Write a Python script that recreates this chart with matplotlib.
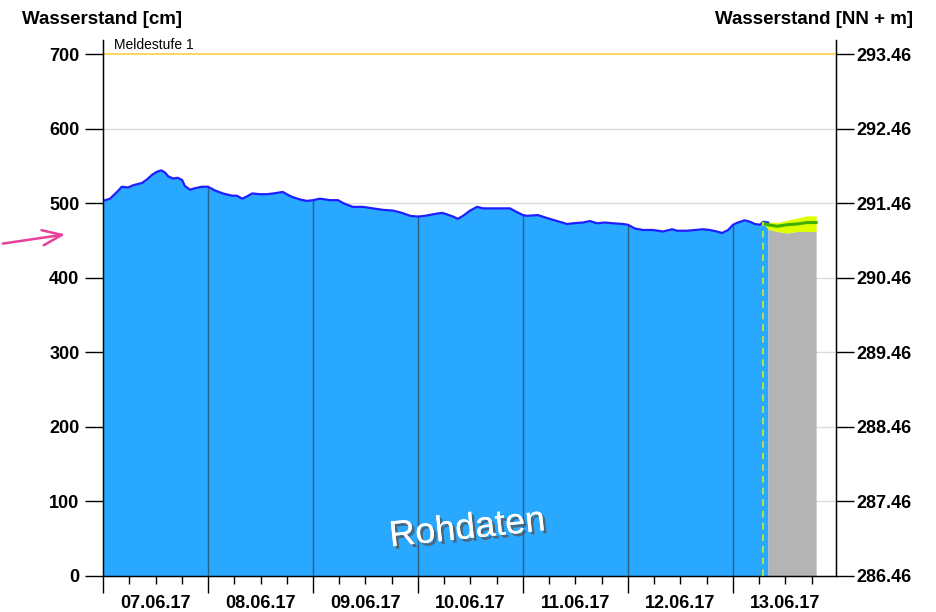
import numpy as np
import matplotlib
matplotlib.use("Agg")
import matplotlib.pyplot as plt
import matplotlib.patheffects as pe

# ---- data (hours since 07.06.17 00:00, water level in cm) ----
hours = [0.0, 1.6, 3.2, 4.3, 5.7, 6.9, 8.9, 10.1, 11.2, 12.3, 13.3, 14.2, 14.9, 16.0,
         17.1, 18.1, 18.7, 19.9, 21.0, 22.6, 24.0, 25.6, 27.4, 29.5, 30.6, 31.8, 32.9,
         34.1, 35.9, 37.5, 38.9, 41.1, 42.3, 43.4, 45.0, 46.6, 48.0, 49.6, 51.9, 53.7,
         54.9, 57.1, 59.4, 61.7, 64.0, 66.3, 68.3, 70.2, 72.0, 73.6, 75.4, 77.5, 78.6,
         80.0, 81.1, 82.3, 83.9, 85.5, 86.9, 89.1, 91.4, 93.0, 94.6, 96.0, 96.9, 99.4,
         101.5, 103.8, 106.1, 107.4, 109.7, 111.3, 112.9, 114.7, 116.6, 118.9, 120.0,
         121.6, 123.4, 125.7, 128.0, 130.1, 131.2, 133.5, 135.3, 137.1, 138.7, 140.3,
         141.5, 142.9, 144.0, 145.1, 146.7, 147.9, 149.0, 150.2, 150.9, 152.0]
level = [503, 506, 515, 522, 521, 524, 527, 532, 538, 542, 544, 541, 536, 533,
         534, 531, 523, 518, 520, 522, 522, 517, 513, 510, 510, 506, 509,
         513, 512, 512, 513, 515, 511, 508, 505, 503, 504, 506, 504, 504,
         500, 495, 495, 493, 491, 490, 487, 483, 482, 483, 485, 487, 485,
         482, 479, 483, 490, 495, 493, 493, 493, 493, 488, 484, 483, 484,
         480, 476, 472, 473, 474, 476, 473, 474, 473, 472, 471,
         466, 464, 464, 462, 465, 463, 463, 464, 465, 464, 462,
         460, 464, 471, 474, 477, 475, 472, 471, 475, 474]

fc_hours = [150.9, 152.0, 154.1, 156.3, 158.6, 160.9, 163.0]
fc_mid = [473, 471, 469, 471, 472, 474, 474]
fc_upper = [475, 475, 474, 477, 480, 483, 483]
fc_lower = [473, 465, 462, 460, 462, 462, 462]

day_labels = ["07.06.17", "08.06.17", "09.06.17", "10.06.17", "11.06.17", "12.06.17", "13.06.17"]
left_ticks = [0, 100, 200, 300, 400, 500, 600, 700]
nn_zero = 286.46
warn_level = 700
now_hour = 150.9

fig = plt.figure(figsize=(9.36, 6.12), dpi=100)
ax = fig.add_axes([103/936, 36/612, 733/936, (576-40)/612])
ymax = (576-40)/0.7457
ax.set_xlim(0, 733/105*24)
ax.set_ylim(0, ymax)

font = "Liberation Sans"
fs = 13

# grid lines
for t in left_ticks[1:-1]:
    ax.axhline(t, color="#DCDCDC", lw=1, zorder=0)
ax.axhline(warn_level, color="#FFD24D", lw=1.3, zorder=1)
ax.text(2.5, warn_level + 3, "Meldestufe 1", fontsize=10, family=font, va="bottom", ha="left")

# raw data
ax.fill_between(hours, 0, level, color="#29A8FF", lw=0, zorder=2)
ax.plot(hours, level, color="#1E1EFF", lw=1.6, zorder=4)

# forecast
ax.fill_between(fc_hours[1:], 0, fc_lower[1:], color="#B4B4B4", lw=0, zorder=2)
ax.fill_between(fc_hours, fc_lower, fc_upper, color="#DDFF00", lw=0, zorder=3)
ax.plot(fc_hours, fc_mid, color="#3FB000", lw=2.2, zorder=4)
ax.vlines(now_hour, 0, np.interp(now_hour, hours, level), colors="#CCEE22",
          linestyles=(0, (4, 3)), lw=1.2, zorder=5)

# day separators
for d in range(1, 7):
    h = d * 24
    ax.vlines(h, 0, np.interp(h, hours, level), colors="#2B5F86", lw=1, zorder=3)

# axes styling
ax.spines["top"].set_visible(False)
for s in ["left", "right", "bottom"]:
    ax.spines[s].set_color("black")
    ax.spines[s].set_linewidth(1)

ax.set_yticks(left_ticks)
ax.set_yticklabels([str(t) for t in left_ticks], fontsize=fs, fontweight="bold", family=font)
ax.tick_params(axis="y", direction="out", length=13, width=1, pad=4)

ax.set_xticks([d * 24 for d in range(7)])
ax.set_xticklabels([""] * 7)
ax.tick_params(axis="x", which="major", direction="out", length=12, width=1)
minor = [d * 24 + k for d in range(7) for k in (6, 12, 18)]
minor_labels = [day_labels[i // 3] if i % 3 == 1 else "" for i in range(len(minor))]
ax.set_xticks(minor, minor_labels, minor=True)
ax.tick_params(axis="x", which="minor", direction="out", length=6, width=1, pad=8,
               labelsize=fs)
for lbl in ax.get_xticklabels(minor=True):
    lbl.set_fontweight("bold")
    lbl.set_family(font)

ax2 = ax.twinx()
ax2.set_ylim(nn_zero, nn_zero + ymax / 100)
right_ticks = [nn_zero + t / 100 for t in left_ticks]
ax2.set_yticks(right_ticks)
ax2.set_yticklabels([f"{v:.2f}" for v in right_ticks], fontsize=fs, fontweight="bold", family=font)
ax2.tick_params(axis="y", direction="out", length=13, width=1, pad=2)
ax2.spines["top"].set_visible(False)

fig.text(22/936, 1 - 20/612, "Wasserstand [cm]", fontsize=13.5, fontweight="bold", family=font,
         ha="left", va="center")
fig.text(913/936, 1 - 20/612, "Wasserstand [NN + m]", fontsize=13.5, fontweight="bold", family=font,
         ha="right", va="center")

# watermark
ax.text(0.497, 0.088, "Rohdaten", transform=ax.transAxes, fontsize=26, color="white",
        rotation=6, ha="center", va="center", family=font, zorder=6,
        path_effects=[pe.withSimplePatchShadow(offset=(2, -2), shadow_rgbFace="#555555", alpha=0.8),
                      pe.Normal()])

# pink arrow
fig.patches.append(matplotlib.patches.FancyArrowPatch(
    (0 / 936, 1 - 244 / 612), (68 / 936, 1 - 234 / 612), transform=fig.transFigure,
    arrowstyle="->,head_length=14,head_width=5.5", color="#E8409A", lw=1.8, mutation_scale=1))

fig.savefig("out.png", dpi=100)
